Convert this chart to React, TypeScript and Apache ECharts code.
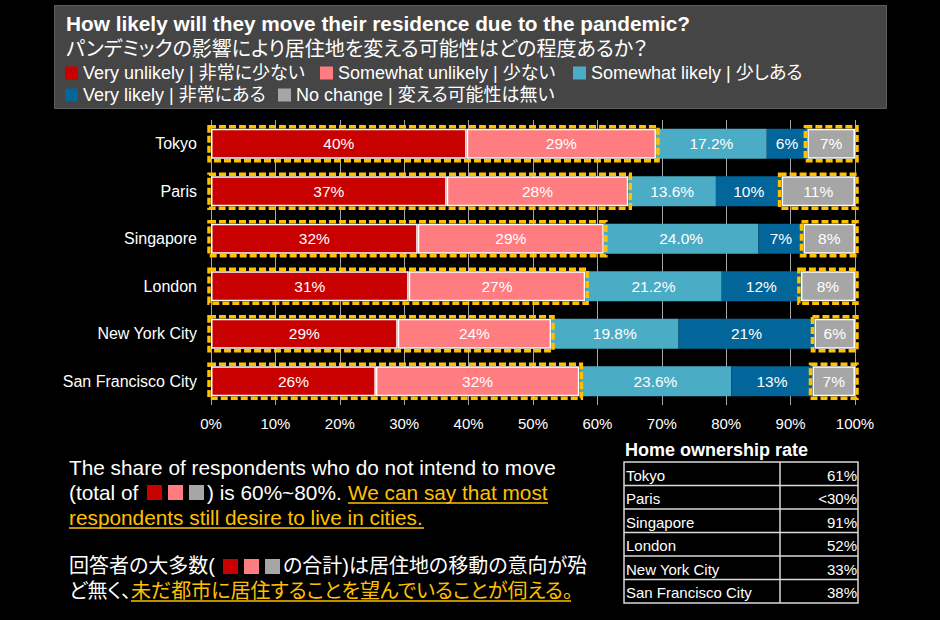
import React, { useEffect, useRef } from "react";
import * as echarts from "echarts";

// ---------- data ----------
const cities = ["Tokyo", "Paris", "Singapore", "London", "New York City", "San Francisco City"];
const veryUnlikely = [39.7, 36.6, 32.1, 30.7, 29.0, 25.6];
const somewhatUnlikely = [29.4, 28.2, 28.9, 27.4, 23.8, 31.6];
const somewhatLikely = [17.2, 13.6, 24.0, 21.2, 19.8, 23.6];
const veryLikely = [6.3, 10.2, 7.0, 12.3, 21.1, 12.6];
const noChange = [7.4, 11.4, 8.0, 8.4, 6.3, 6.6];

const seriesNames = [
  "Very unlikely | 非常に少ない",
  "Somewhat unlikely | 少ない",
  "Somewhat likely | 少しある",
  "Very likely | 非常にある",
  "No change | 変える可能性は無い",
];
const seriesColors = ["#C80000", "#FF7C80", "#4BACC6", "#02669A", "#A6A6A6"];

const titleEn = "How likely will they move their residence due to the pandemic?";
const titleJa = "パンデミックの影響により居住地を変える可能性はどの程度あるか？";

const tableTitle = "Home ownership rate";
const ownershipCities = ["Tokyo", "Paris", "Singapore", "London", "New York City", "San Francisco City"];
const ownershipRates = ["61%", "<30%", "91%", "52%", "33%", "38%"];

const FONT = "'Liberation Sans', Arial, 'Noto Sans CJK JP', sans-serif";
const ORANGE = "#FFC000";

function buildOption() {
  const all = [veryUnlikely, somewhatUnlikely, somewhatLikely, veryLikely, noChange];
  const bars = all.map((arr, k) => ({
    name: seriesNames[k],
    type: "bar",
    stack: "total",
    barWidth: 30,
    z: 2,
    data: arr,
    itemStyle: {
      color: seriesColors[k],
      borderColor: k === 2 || k === 3 ? seriesColors[k] : "#FFFFFF",
      borderWidth: k === 2 || k === 3 ? 0 : 1.5,
    },
    label: {
      show: true,
      position: "inside",
      color: "#FFFFFF",
      fontSize: 15.5,
      fontFamily: FONT,
      formatter: (p: any) => (k === 2 ? Number(p.value).toFixed(1) + "%" : Math.round(p.value) + "%"),
    },
    emphasis: { disabled: true },
  }));

  const boxData: number[][] = [];
  cities.forEach((_, i) => {
    const unl = veryUnlikely[i] + somewhatUnlikely[i];
    const likelyEnd = unl + somewhatLikely[i] + veryLikely[i];
    boxData.push([i, 0, unl]);
    boxData.push([i, likelyEnd, likelyEnd + noChange[i]]);
  });

  const boxes = {
    type: "custom",
    name: "boxes",
    z: 10,
    silent: true,
    encode: { x: [1, 2], y: 0 },
    data: boxData,
    renderItem: (params: any, api: any) => {
      const cat = api.value(0);
      const p0 = api.coord([api.value(1), cat]);
      const p1 = api.coord([api.value(2), cat]);
      const h = 34;
      return {
        type: "rect",
        shape: { x: p0[0] - 2, y: p0[1] - h / 2, width: p1[0] - p0[0] + 4, height: h },
        style: { fill: "none", stroke: ORANGE, lineWidth: 3.5, lineDash: [7, 3] },
      };
    },
  };

  const legendPos = [
    { left: 65, top: 64 },
    { left: 320, top: 64 },
    { left: 573, top: 64 },
    { left: 65, top: 86 },
    { left: 278, top: 86 },
  ];
  const legends = seriesNames.map((n, k) => ({
    data: [n],
    left: legendPos[k].left,
    top: legendPos[k].top,
    padding: 0,
    icon: "rect",
    itemWidth: 13,
    itemHeight: 13,
    itemStyle: { borderWidth: 0 },
    selectedMode: false,
    textStyle: { color: "#FFFFFF", fontSize: 18, fontFamily: FONT },
  }));

  const g: any[] = [];
  // header box
  g.push({
    type: "rect",
    z: -10,
    shape: { x: 54.5, y: 5.5, width: 832, height: 103 },
    style: { fill: "#454545", stroke: "#5E5E5E", lineWidth: 1 },
  });
  const txt = (text: string, x: number, y: number, size: number, color = "#FFFFFF", weight = "normal", align = "left") => ({
    type: "text",
    x,
    y,
    style: {
      text,
      fill: color,
      fontSize: size,
      fontWeight: weight,
      fontFamily: FONT,
      textAlign: align,
      textVerticalAlign: "middle",
      verticalAlign: "middle",
    },
  });
  g.push(txt(titleEn, 66, 23, 20.8, "#FFFFFF", "bold"));
  g.push(txt(titleJa, 66, 48.5, 20));

  // bottom-left commentary
  const FS = 20.8;
  const FJ = 20;
  const sq = (x: number, y: number, c: string) => ({
    type: "rect",
    shape: { x, y, width: 15, height: 15 },
    style: { fill: c },
  });
  const ul = (x1: number, x2: number, y: number) => ({
    type: "line",
    shape: { x1, y1: y, x2, y2: y },
    style: { stroke: ORANGE, lineWidth: 1.5 },
  });
  g.push(txt("The share of respondents who do not intend to move", 69, 467, FS));
  g.push(txt("(total of", 69, 492, FS));
  g.push(sq(147, 485, seriesColors[0]), sq(168, 485, seriesColors[1]), sq(189, 485, seriesColors[4]));
  g.push(txt(") is 60%~80%.", 207, 492, FS));
  g.push(txt("We can say that most", 348, 492, FS, ORANGE));
  g.push(ul(348, 548, 503));
  g.push(txt("respondents still desire to live in cities.", 69, 517, FS, ORANGE));
  g.push(ul(69, 424, 528));

  g.push(txt("回答者の大多数(", 69, 566, FJ));
  g.push(sq(223, 559, seriesColors[0]), sq(244, 559, seriesColors[1]), sq(265, 559, seriesColors[4]));
  g.push(txt("の合計)は居住地の移動の意向が殆", 283, 566, FJ));
  g.push(txt("ど無く、", 69, 591, FJ));
  g.push(txt("未だ都市に居住することを望んでいることが伺える。", 131, 591, FJ, ORANGE));
  g.push(ul(131, 571, 601));

  // table
  const tx0 = 624, tx1 = 858, tdiv = 780, ty0 = 462, rowH = 23.5;
  g.push(txt(tableTitle, 625, 450, 18, "#FFFFFF", "bold"));
  g.push({
    type: "rect",
    shape: { x: tx0, y: ty0, width: tx1 - tx0, height: rowH * ownershipCities.length },
    style: { fill: "none", stroke: "#D9D9D9", lineWidth: 1.5 },
  });
  g.push({
    type: "line",
    shape: { x1: tdiv, y1: ty0, x2: tdiv, y2: ty0 + rowH * ownershipCities.length },
    style: { stroke: "#D9D9D9", lineWidth: 1.5 },
  });
  ownershipCities.forEach((c, i) => {
    if (i > 0) {
      g.push({
        type: "line",
        shape: { x1: tx0, y1: ty0 + rowH * i, x2: tx1, y2: ty0 + rowH * i },
        style: { stroke: "#D9D9D9", lineWidth: 1.5 },
      });
    }
    const cy = ty0 + rowH * i + 13;
    g.push(txt(c, 626, cy, 15));
    g.push(txt(ownershipRates[i], 857, cy, 15, "#FFFFFF", "normal", "right"));
  });

  return {
    animation: false,
    backgroundColor: "#000000",
    textStyle: { fontFamily: FONT },
    legend: legends,
    grid: { left: 211, top: 120, width: 644, height: 285, containLabel: false },
    xAxis: {
      type: "value",
      min: 0,
      max: 100,
      interval: 10,
      axisLine: { show: false },
      axisTick: { show: false },
      splitLine: { show: true, lineStyle: { color: "#A6A6A6", width: 1 } },
      axisLabel: { color: "#FFFFFF", fontSize: 15, fontFamily: FONT, margin: 11, formatter: "{value}%" },
    },
    yAxis: {
      type: "category",
      inverse: true,
      data: cities,
      axisLine: { show: false },
      axisTick: { show: false },
      axisLabel: { color: "#FFFFFF", fontSize: 16, fontFamily: FONT, margin: 14 },
    },
    series: [...bars, boxes],
    graphic: { elements: g },
  };
}

export default function App() {
  const ref = useRef<HTMLDivElement>(null);
  useEffect(() => {
    document.body.style.margin = "0";
    document.body.style.background = "#000";
    if (!ref.current) return;
    const chart = echarts.init(ref.current, undefined, { renderer: "svg" });
    chart.setOption(buildOption() as any);
    return () => chart.dispose();
  }, []);
  return (
    <>
      <style>{`svg text { font-feature-settings: "palt" 1 !important; }`}</style>
      <div ref={ref} style={{ width: 940, height: 620, background: "#000" }} />
    </>
  );
}
